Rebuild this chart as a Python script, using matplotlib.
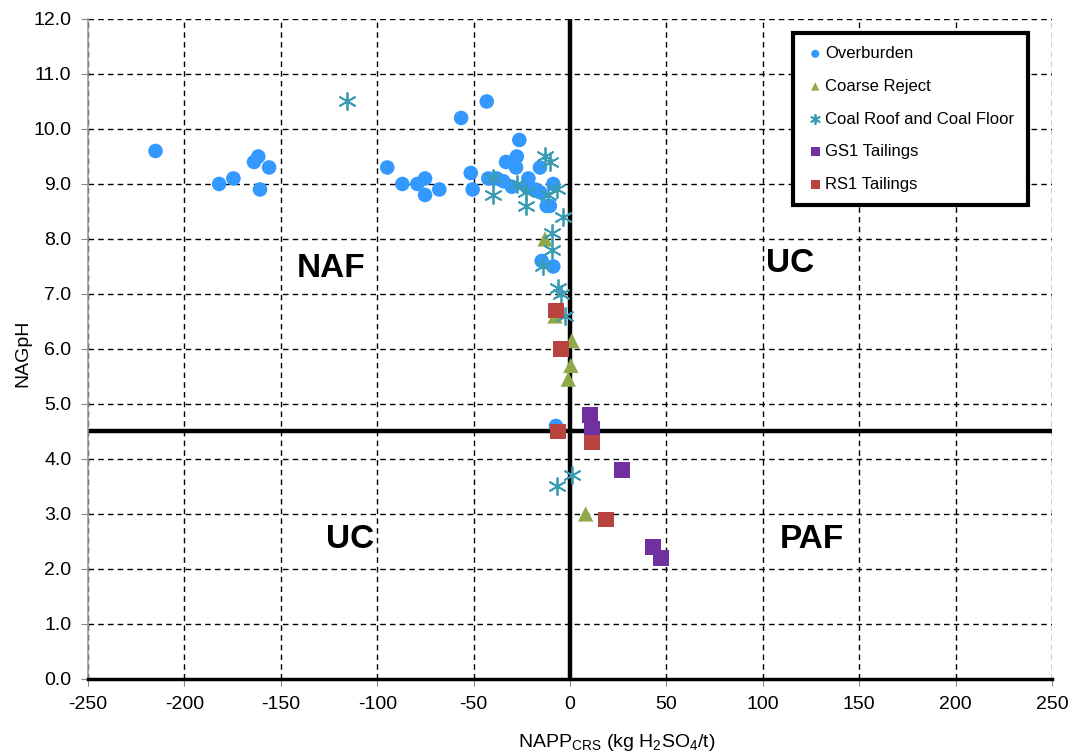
import matplotlib
matplotlib.use("Agg")
import matplotlib.pyplot as plt

plt.rcParams['font.family'] = ['Liberation Sans', 'DejaVu Sans']
plt.rcParams['axes.unicode_minus'] = False
plt.rcParams['mathtext.fontset'] = 'custom'
plt.rcParams['mathtext.rm'] = 'Liberation Sans'

# ---- data ----
ob_x = [-215, -182, -174.6, -161.7, -163.9, -156.1, -160.8, -94.8, -87, -79.2, -75.2, -75.2,
        -67.8, -56.5, -43.2, -51.5, -50.5, -26.3, -27.6, -33.2, -28, -42.4, -38, -30.2,
        -21.6, -22.5, -15.6, -8.7, -12.1, -15.6, -34.6, -14.7, -8.7, -7.3, -10.5, -18]
ob_y = [9.6, 9.0, 9.1, 9.5, 9.4, 9.3, 8.9, 9.3, 9.0, 9.0, 9.1, 8.8,
        8.9, 10.2, 10.5, 9.2, 8.9, 9.8, 9.5, 9.4, 9.3, 9.1, 9.1, 8.95,
        9.1, 8.95, 9.3, 9.0, 8.6, 8.85, 9.05, 7.6, 7.5, 4.6, 8.6, 8.9]

cr_x = [-13, -7.8, 0.9, 0.4, -0.9, 8.1]
cr_y = [8.0, 6.6, 6.15, 5.7, 5.45, 3.0]

cf_x = [-115.5, -39.8, -39.8, -27.3, -23, -23, -13, -10.4, -11.3, -6.9, -3.5, -9.5,
        -9.5, -14.2, -6.1, -4.7, -2.6, 0.9, -6.9]
cf_y = [10.5, 9.1, 8.8, 9.0, 8.85, 8.6, 9.5, 9.4, 8.8, 8.9, 8.4, 8.1,
        7.8, 7.5, 7.1, 7.0, 6.6, 3.7, 3.5]

gs_x = [10.4, 11.2, 26.8, 42.9, 47]
gs_y = [4.8, 4.55, 3.8, 2.4, 2.2]

rs_x = [-7.4, -4.7, -6.2, 11.2, 18.5]
rs_y = [6.7, 6.0, 4.5, 4.3, 2.9]

x_ticks = [-250, -200, -150, -100, -50, 0, 50, 100, 150, 200, 250]
y_ticks = [0, 1, 2, 3, 4, 5, 6, 7, 8, 9, 10, 11, 12]

zones = [("NAF", -124, 7.47), ("UC", 114, 7.56), ("UC", -114, 2.53), ("PAF", 125.5, 2.53)]

# ---- figure ----
fig = plt.figure(figsize=(10.71, 7.56), dpi=100)
ax = fig.add_axes([0.0822, 0.1019, 0.9001, 0.873])

ax.set_xlim(-250, 250)
ax.set_ylim(0, 12)
ax.set_xticks(x_ticks)
ax.set_yticks(y_ticks)
ax.set_yticklabels([f"{v:.1f}" for v in y_ticks])
ax.tick_params(labelsize=14, length=5, color='#888888', pad=7)
ax.grid(True, color='black', linestyle=(0, (4, 3)), linewidth=1.0)
ax.set_axisbelow(True)

for s in ['top', 'right']:
    ax.spines[s].set_visible(False)
ax.spines['bottom'].set_linewidth(2.5)
ax.spines['left'].set_color('#999999')
ax.spines['left'].set_linewidth(1.2)

ax.axvline(0, color='black', linewidth=3.2, zorder=2)
ax.axhline(4.5, color='black', linewidth=3.2, zorder=2)

ax.scatter(ob_x, ob_y, s=110, marker='o', color='#3399FF', edgecolors='none', zorder=3, label='Overburden')
ax.scatter(cr_x, cr_y, s=120, marker='^', color='#8EA84A', edgecolors='none', zorder=4, label='Coarse Reject')
ax.scatter(cf_x, cf_y, s=150, marker=(6, 2, 0), color='#3A9CB3', linewidths=1.3, zorder=5,
           label='Coal Roof and Coal Floor')
ax.scatter(gs_x, gs_y, s=130, marker='s', color='#7030A0', edgecolors='none', zorder=6, label='GS1 Tailings')
ax.scatter(rs_x, rs_y, s=130, marker='s', color='#B8433F', edgecolors='none', zorder=7, label='RS1 Tailings')

for t, x, y in zones:
    ax.text(x, y, t, fontsize=24, fontweight='bold', ha='center', va='center', zorder=8)

ax.set_xlabel("NAPP$_{\\mathregular{CRS}}$ (kg H$_{\\mathregular{2}}$SO$_{\\mathregular{4}}$/t)", fontsize=14)
ax.set_ylabel("NAGpH", fontsize=14)
ax.xaxis.label.set_va('center')
ax.xaxis.set_label_coords(0.549, -0.097)
ax.yaxis.set_label_coords(-0.059, 0.494)

leg = ax.legend(loc='upper left', bbox_to_anchor=(0.731, 0.979), fontsize=12, markerscale=0.55,
                handletextpad=0.05, labelspacing=1.06, borderpad=0.8, handlelength=1.1,
                fancybox=False, framealpha=1, edgecolor='black', borderaxespad=0)
leg.get_frame().set_linewidth(3)
leg.set_zorder(10)

fig.savefig("out.png", dpi=100)
